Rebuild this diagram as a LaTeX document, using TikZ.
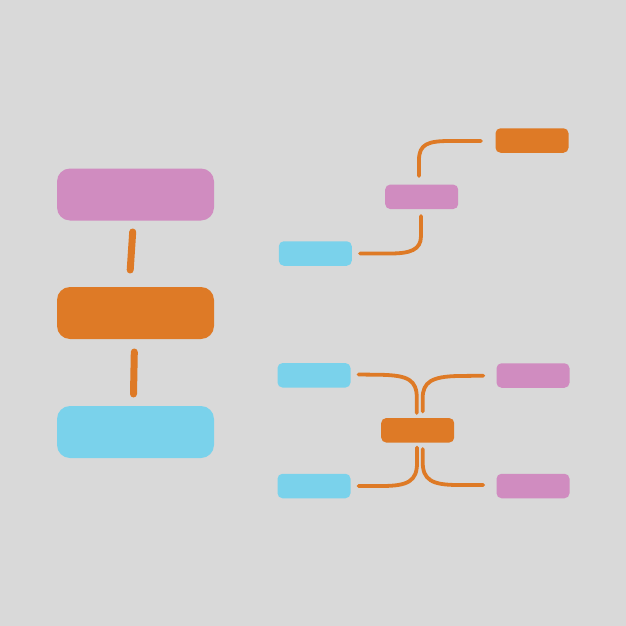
\documentclass[tikz,border=0pt]{standalone}
\definecolor{bgc}{RGB}{217,217,217}
\definecolor{pinkc}{RGB}{208,140,192}
\definecolor{orangec}{RGB}{222,122,38}
\definecolor{cyanc}{RGB}{122,210,235}
\begin{document}
\begin{tikzpicture}[x=1pt,y=-1pt,
  bigbox/.style={rectangle,rounded corners=13pt,minimum width=157pt,minimum height=52pt,inner sep=0pt,draw=none},
  smallbox/.style={rectangle,rounded corners=5pt,minimum width=73pt,minimum height=24.5pt,inner sep=0pt,draw=none},
  thick link/.style={draw=orangec,line width=7pt,line cap=round},
  thin link/.style={draw=orangec,line width=3.8pt,line cap=round}]
\fill[bgc] (0,0) rectangle (626,626);
\useasboundingbox (0,0) rectangle (626,626);
% left column
\node[bigbox,fill=pinkc] (lp) at (135.5,194.5) {};
\node[bigbox,fill=orangec] (lo) at (135.5,313) {};
\node[bigbox,fill=cyanc] (lc) at (135.5,432) {};
\coordinate (l1a) at (132.7,232);
\coordinate (l1b) at (130.2,270);
\coordinate (l2a) at (134.3,352);
\coordinate (l2b) at (133.5,394);
\draw[thick link] (l1a) -- (l1b);
\draw[thick link] (l2a) -- (l2b);
% top right
\node[smallbox,fill=orangec] (to) at (532,140.5) {};
\node[smallbox,fill=pinkc] (tp) at (421.7,196.8) {};
\node[smallbox,fill=cyanc] (tc) at (315.3,253.5) {};
\coordinate (t1a) at (419,176);
\coordinate (t1b) at (481,141);
\coordinate (t2a) at (421,216);
\coordinate (t2b) at (360,253.5);
\draw[thin link] (t1a) -- (419,160) .. controls (419,144) and (428,141) .. (450,141) -- (t1b);
\draw[thin link] (t2a) -- (421,236) .. controls (421,250) and (410,253.5) .. (390,253.5) -- (t2b);
% bottom right
\node[smallbox,fill=cyanc] (bc1) at (314,375.3) {};
\node[smallbox,fill=pinkc] (bp1) at (533,375.5) {};
\node[smallbox,fill=orangec] (bo) at (417.7,430.3) {};
\node[smallbox,fill=cyanc] (bc2) at (314,486) {};
\node[smallbox,fill=pinkc] (bp2) at (533,486) {};
\coordinate (b1a) at (358.5,374.5);
\coordinate (b1b) at (416.8,413);
\coordinate (b2a) at (483.3,375.7);
\coordinate (b2b) at (422.7,411.5);
\coordinate (b3a) at (417,447.5);
\coordinate (b3b) at (358.5,486);
\coordinate (b4a) at (422.7,449);
\coordinate (b4b) at (483.3,485);
\draw[thin link] (b1a) -- (382,374.8) .. controls (408,375.5) and (416.8,380) .. (416.8,398) -- (b1b);
\draw[thin link] (b2a) -- (458,376) .. controls (432,376.5) and (422.7,382) .. (422.7,398) -- (b2b);
\draw[thin link] (b3a) -- (417,463) .. controls (417,481) and (408,486) .. (382,486) -- (b3b);
\draw[thin link] (b4a) -- (422.7,462) .. controls (422.7,480) and (432,485) .. (458,485) -- (b4b);
\end{tikzpicture}
\end{document}
